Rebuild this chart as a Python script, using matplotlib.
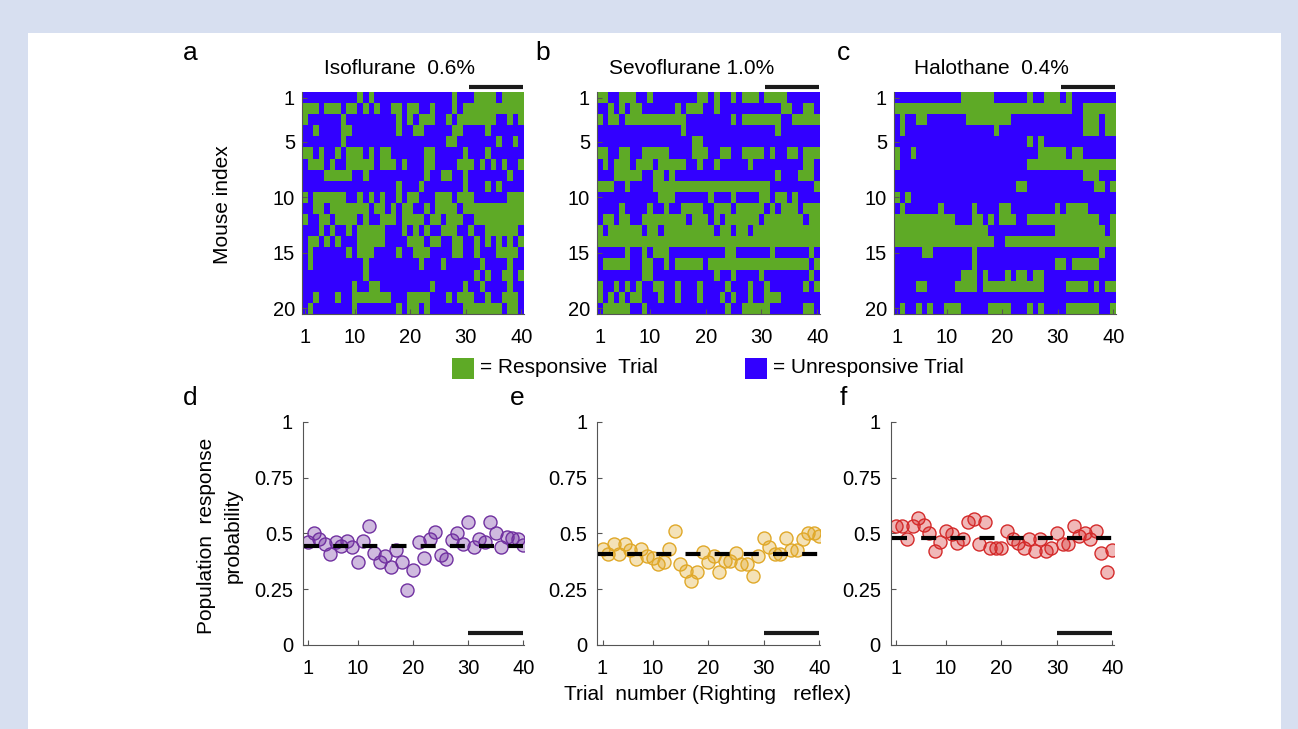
import numpy as np
import matplotlib
matplotlib.use("Agg")
import matplotlib.pyplot as plt
from matplotlib.colors import ListedColormap
from matplotlib.patches import Rectangle

plt.rcParams['font.family'] = ['Liberation Sans', 'DejaVu Sans']

W, H = 1298, 729

# responsive trials (0-based trial column) for each mouse, row 1 at top
iso_resp = [
    [10, 12, 27, 31, 32, 33, 34, 36, 37, 38, 39],
    [0, 1, 2, 4, 5, 6, 8, 9, 11, 13, 16, 17, 19, 20, 23, 27, 29, 30, 31, 32, 33, 34, 35, 36, 37, 38, 39],
    [0, 7, 17, 19, 21, 22, 23, 26, 28, 29, 30, 31, 32, 33, 34, 37, 39],
    [2, 7, 8, 17, 20, 21, 27, 28, 33],
    [7, 26, 27, 35, 38],
    [0, 1, 3, 6, 8, 9, 10, 12, 14, 15, 22, 23, 29, 33],
    [1, 2, 3, 5, 8, 9, 10, 11, 12, 14, 15, 16, 18, 22, 23, 28, 29, 30, 32, 34, 36, 39],
    [4, 5, 6, 7, 8, 11, 22, 25, 26, 29, 37],
    [17, 21, 29, 33, 35],
    [0, 2, 3, 4, 5, 6, 7, 10, 12, 14, 17, 19, 20, 24, 25, 26, 28, 29, 30, 37, 38, 39],
    [2, 3, 5, 6, 7, 8, 9, 10, 11, 13, 14, 16, 18, 19, 22, 24, 25, 26, 27, 29, 30, 31, 32, 33, 34, 35, 36, 37, 38, 39],
    [0, 3, 4, 6, 7, 8, 9, 11, 14, 15, 16, 18, 19, 20, 21, 23, 24, 26, 27, 28, 31, 32, 33, 34, 35, 36, 37, 38, 39],
    [3, 5, 8, 10, 11, 12, 13, 14, 18, 20, 22, 25, 26, 27, 30, 33, 34, 35, 36, 37, 38],
    [1, 2, 4, 6, 10, 11, 12, 13, 14, 19, 20, 21, 23, 24, 27, 28, 31, 33, 35, 37, 39],
    [1, 8, 10, 11, 12, 17, 20, 21, 22, 27, 28, 31, 35, 36, 37, 38],
    [1, 11, 21, 25, 32, 37],
    [11, 31, 33, 36, 37, 39],
    [9, 12, 13, 23, 29, 32, 37],
    [2, 6, 9, 10, 11, 12, 13, 14, 15, 19, 20, 21, 22, 26, 28, 29, 30, 33, 36, 37, 38],
    [1, 9, 17, 19, 20, 22, 29, 30, 31, 32, 33, 34, 35, 37, 38],
]

sevo_resp = [
    [0, 1, 4, 5, 6, 9, 18, 19, 21, 24, 26, 27, 28, 30, 31, 32, 33],
    [2, 4, 6, 7, 14, 16, 17, 18, 21, 33, 34, 37, 38],
    [0, 2, 3, 5, 6, 7, 8, 9, 10, 11, 12, 13, 14, 15, 24, 26, 27, 28, 29, 30, 31, 32, 35, 36, 37, 38, 39],
    [15, 32],
    [17, 18],
    [0, 1, 4, 5, 8, 9, 10, 11, 12, 17, 18, 19, 22, 23, 26, 27, 28, 29, 31, 34, 35, 37, 38, 39],
    [1, 3, 4, 5, 7, 8, 9, 11, 12, 13, 14, 15, 18, 21, 27, 37, 38],
    [3, 4, 5, 6, 7, 10, 11, 13, 32, 36, 37, 38],
    [0, 1, 2, 5, *range(10, 31), 39],
    [11, 12, 13, 20, 24, 29, 30, 32, 33, 35],
    [4, 9, 12, 15, 16, 17, 18, 21, 22, 23, 25, 26, 27, 28, 29, 31, 33, 34, 35, 37, 38, 39],
    [1, 2, 4, 5, 8, 9, 10, 11, 12, 13, 14, 15, 17, 18, 19, 21, 23, 24, 25, 26, 27, 28, 30, 31, 32, 33, 34, 35, 36, 38, 39],
    [0, 2, 3, 4, 5, 6, 7, 9, 10, *range(12, 21), 22, 23, 25, 26, *range(28, 40)],
    [*range(0, 40)],
    [5, 8, 10, 11, 12, 23, 24, 31, 38],
    [1, 2, 3, 4, 5, 8, 9, 12, 14, 15, 16, 17, 18, *range(20, 38), 39],
    [8, 9, 21, 24, 29, 38],
    [0, 3, 5, 7, 10, 11, 14, 18, 23, 27, 30, 37, 39],
    [0, 2, 4, 6, 7, 11, 14, 18, 22, 24, 27, 30, 31, 32],
    [1, 2, 3, 4, 5, 8, 23, 26, 27, 28, 29, 30, 37, 38],
]

halo_resp = [
    [12, 13, 14, 15, 16, 17, 24, 27, 28, 29, 31],
    [*range(0, 32), *range(34, 40)],
    [1, 4, 5, 13, 14, 15, 16, 17, 18, 19, 20, 34, 35, 36, 38, 39],
    [1, 18, 34, 35, 36, 38, 39],
    [24, 26],
    [0, 3, 26, 27, 28, 29, 30, 32, 33],
    [0, *range(24, 40)],
    [34, 35, 36],
    [22, 23, 36, 37, 39],
    [0, 2],
    [1, 8, 14, 19, 20, 29, 31, 32, 33, 34],
    [*range(0, 11), 14, 15, 17, 19, 20, 21, *range(24, 37), 39],
    [*range(0, 17), *range(29, 38), 39],
    [*range(0, 18), *range(20, 40)],
    [5, 6, 14, 37],
    [14, 29, 30, 32, 33, 34, 35, 36],
    [12, 13, 14, 16, 20, 22, 23, 25, 26],
    [4, 5, 11, 12, 13, 14, *range(16, 27), 31, 32, 33, 34, 36, 38, 39],
    [],
    [1, 4, 6, 9, 10, 11, 17, 18, 19, 20, 24, 26, 31, 32, 33, 34, 35, 36, 39],
]

trials = np.arange(1, 41)

iso_prob = [0.463, 0.50, 0.473, 0.451, 0.407, 0.463, 0.445, 0.464, 0.439, 0.373,
            0.466, 0.534, 0.413, 0.373, 0.40, 0.351, 0.425, 0.373, 0.246, 0.336,
            0.46, 0.388, 0.475, 0.507, 0.403, 0.385, 0.47, 0.50, 0.451, 0.549,
            0.437, 0.473, 0.463, 0.549, 0.50, 0.437, 0.485, 0.478, 0.475, 0.448]
sevo_prob = [0.428, 0.407, 0.451, 0.407, 0.451, 0.425, 0.385, 0.428, 0.40, 0.388,
             0.363, 0.37, 0.428, 0.512, 0.363, 0.333, 0.287, 0.325, 0.418, 0.373,
             0.40, 0.325, 0.376, 0.376, 0.413, 0.363, 0.363, 0.31, 0.40, 0.478,
             0.44, 0.407, 0.407, 0.478, 0.425, 0.425, 0.475, 0.50, 0.50, 0.488]
halo_prob = [0.534, 0.534, 0.475, 0.534, 0.567, 0.537, 0.503, 0.422, 0.463, 0.512,
             0.497, 0.458, 0.473, 0.549, 0.564, 0.451, 0.552, 0.436, 0.436, 0.436,
             0.512, 0.473, 0.458, 0.436, 0.475, 0.422, 0.473, 0.422, 0.436, 0.50,
             0.451, 0.451, 0.534, 0.488, 0.50, 0.473, 0.512, 0.413, 0.325, 0.425]
mean_prob = [0.443, 0.407, 0.481]

titles = ["Isoflurane  0.6%", "Sevoflurane 1.0%", "Halothane  0.4%"]
edge_colors = ["#7030A0", "#E0A828", "#D42A2A"]
green = "#5EAA26"
blue = "#3200FF"
axis_grey = "#555555"


def px_box(x0, y0, x1, y1):
    return [x0 / W, 1 - y1 / H, (x1 - x0) / W, (y1 - y0) / H]


def style_axes(ax):
    for s in ["top", "right"]:
        ax.spines[s].set_visible(False)
    for s in ["left", "bottom"]:
        ax.spines[s].set_color(axis_grey)
        ax.spines[s].set_linewidth(0.8)
    ax.tick_params(direction="in", length=3.5, width=0.8, color=axis_grey,
                   labelsize=14.5, pad=5)
    ax.tick_params(axis="x", pad=10)


def draw_heat(ax, resp):
    mat = np.zeros((20, 40))
    for r, cols in enumerate(resp):
        mat[r, cols] = 1
    ax.imshow(mat, cmap=ListedColormap([blue, green]), vmin=0, vmax=1,
              extent=(0.5, 40.5, 20.5, 0.5), aspect="auto", interpolation="nearest")
    ax.plot([30.6, 40.4], [0.05, 0.05], color="#1a1a1a", lw=3, clip_on=False,
            solid_capstyle="butt")
    ax.set_xlim(0.5, 40.5)
    ax.set_ylim(20.5, 0.5)
    ax.set_xticks([1, 10, 20, 30, 40])
    ax.set_yticks([1, 5, 10, 15, 20])
    style_axes(ax)


def draw_scatter(ax, vals, m, ec):
    ax.scatter(trials, vals, s=88, facecolor=matplotlib.colors.to_rgba(ec, 0.33),
               edgecolor=ec, linewidth=1.0, zorder=2)
    ax.plot([0.2, 40], [m, m], color="black", lw=3, dashes=(3.6, 3.4), zorder=3)
    ax.plot([30, 40], [0.052, 0.052], color="#1a1a1a", lw=3, solid_capstyle="butt")
    ax.set_xlim(0, 40.2)
    ax.set_ylim(0, 1)
    ax.set_xticks([1, 10, 20, 30, 40])
    ax.set_yticks([0, 0.25, 0.5, 0.75, 1])
    ax.set_yticklabels(["0", "0.25", "0.5", "0.75", "1"])
    style_axes(ax)
    ax.tick_params(axis="y", pad=7)


fig = plt.figure(figsize=(W / 100, H / 100), dpi=100)
fig.patch.set_facecolor("#D7DFF0")
fig.add_artist(Rectangle((28 / W, 0), (1281 - 28) / W, 1 - 33 / H,
                         transform=fig.transFigure, facecolor="white",
                         edgecolor="none", zorder=-10))

heat_boxes = [(302, 92, 524, 314), (597, 92, 820, 314), (894, 92, 1116, 314)]
scat_boxes = [(302.8, 421.7, 524.3, 645), (597, 421.7, 820.3, 645), (890.5, 421.7, 1113.6, 645)]
title_x = [400, 692, 991]

for i, resp in enumerate([iso_resp, sevo_resp, halo_resp]):
    ax = fig.add_axes(px_box(*heat_boxes[i]))
    draw_heat(ax, resp)
    fig.text(title_x[i] / W, 1 - 68 / H, titles[i], ha="center", va="center", fontsize=15)

for i, vals in enumerate([iso_prob, sevo_prob, halo_prob]):
    ax = fig.add_axes(px_box(*scat_boxes[i]))
    draw_scatter(ax, vals, mean_prob[i], edge_colors[i])

# panel letters
for letter, x, y in [("a", 190, 53), ("b", 543, 53), ("c", 843, 53),
                     ("d", 190, 398), ("e", 517, 398), ("f", 843, 398)]:
    fig.text(x / W, 1 - y / H, letter, ha="center", va="center", fontsize=19)

fig.text(222 / W, 1 - 205 / H, "Mouse index", rotation=90, ha="center", va="center", fontsize=15)
fig.text(207 / W, 1 - 536 / H, "Population  response", rotation=90, ha="center", va="center", fontsize=15)
fig.text(233 / W, 1 - 536 / H, "probability", rotation=90, ha="center", va="center", fontsize=15)
fig.text(708 / W, 1 - 695 / H, "Trial  number (Righting   reflex)", ha="center", va="center", fontsize=15)

# legend
fig.add_artist(Rectangle((452 / W, 1 - 379 / H), 22 / W, 21 / H, transform=fig.transFigure,
                         facecolor=green, edgecolor="none"))
fig.text(480 / W, 1 - 368 / H, "= Responsive  Trial", ha="left", va="center", fontsize=15)
fig.add_artist(Rectangle((745 / W, 1 - 379 / H), 22 / W, 21 / H, transform=fig.transFigure,
                         facecolor=blue, edgecolor="none"))
fig.text(773 / W, 1 - 368 / H, "= Unresponsive Trial", ha="left", va="center", fontsize=15)

fig.savefig("out.png", dpi=100, facecolor=fig.get_facecolor())
